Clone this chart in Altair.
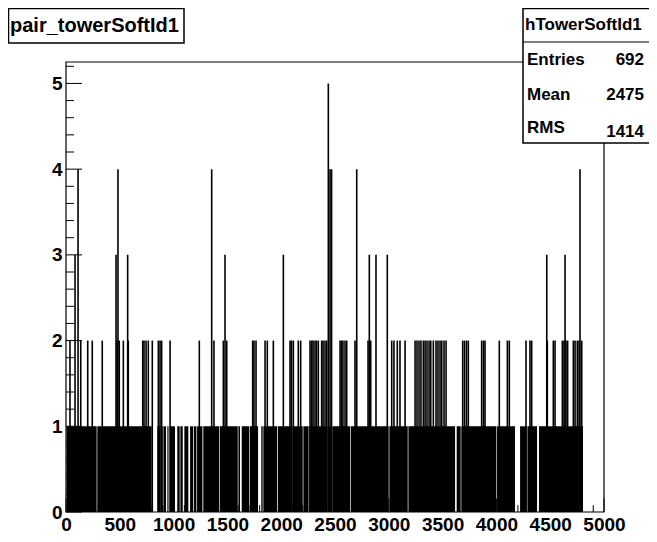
import altair as alt
import pandas as pd

# ---------------- data ----------------
# ranges of tower id where the histogram sits at (at least) one entry
ones_start = [5, 291, 849, 881, 905, 942, 967, 1034, 1063, 1100, 1153, 1190, 1218,
              1276, 1431, 1602, 1633, 1710, 1815, 1834, 1968, 2103, 2206, 2261, 2429,
              2475, 2647, 3005, 3182, 3631, 3674, 4006, 4220, 4288, 4396]
ones_end = [285, 796, 874, 899, 929, 953, 1013, 1057, 1085, 1137, 1183, 1212, 1268,
            1425, 1596, 1617, 1704, 1785, 1828, 1961, 2097, 2200, 2255, 2423, 2469,
            2641, 2999, 3176, 3616, 3668, 4000, 4173, 4282, 4378, 4805]

# bins with 3 or more entries: tower id and content
tall_pos = [84, 112, 465, 483, 573, 1354, 1478, 2020, 2438, 2454, 2468, 2702, 2819,
            2881, 2986, 4468, 4638, 4777]
tall_count = [3, 4, 3, 4, 3, 4, 3, 3, 5, 4, 4, 4, 3, 3, 3, 3, 3, 4]

# bins with exactly 2 entries
two_pos = [37, 137, 202, 244, 337, 474, 495, 533, 579, 713, 725, 744, 765, 802, 858,
           874, 889, 967, 1239, 1375, 1462, 1494, 1735, 1747, 1766, 1850, 1871, 1927,
           2082, 2096, 2113, 2159, 2181, 2268, 2284, 2296, 2314, 2328, 2345, 2376,
           2389, 2407, 2423, 2547, 2562, 2574, 2593, 2609, 2686, 2807, 2832, 3027,
           3048, 3079, 3104, 3151, 3244, 3262, 3281, 3299, 3321, 3337, 3355, 3374,
           3390, 3414, 3439, 3457, 3476, 3492, 3513, 3532, 3687, 3704, 3722, 3739,
           3863, 3880, 3894, 4027, 4102, 4120, 4275, 4312, 4328, 4473, 4529, 4545,
           4613, 4628, 4647, 4662, 4715, 4731, 4752, 4768, 4793]

x_major = [0, 500, 1000, 1500, 2000, 2500, 3000, 3500, 4000, 4500, 5000]
y_major = [0, 1, 2, 3, 4, 5]
x_minor = [v for v in range(0, 5001, 100) if v % 500]
y_minor = [round(0.2 * i, 1) for i in range(27) if i % 5]

hist_title = "pair_towerSoftId1"
stats_name = "hTowerSoftId1"
stats_labels = ["Entries", "Mean", "RMS"]
stats_values = ["692", "2475", "1414"]

# ---------------- layout ----------------
W, H = 538, 450
FONT = "Liberation Sans"

xs = alt.Scale(domain=[0, 5000], nice=False, zero=False)
ys = alt.Scale(domain=[0, 5.25], nice=False, zero=False)

xaxis = alt.Axis(values=x_major, format="d", labelFont=FONT, labelFontWeight="bold",
                 labelFontSize=19, labelColor="black", tickSize=0, domain=False,
                 grid=False, title=None, labelPadding=3, labelFlush=False,
                 labelOverlap=False)
yaxis = alt.Axis(values=y_major, format="d", labelFont=FONT, labelFontWeight="bold",
                 labelFontSize=19, labelColor="black", tickSize=0, domain=False,
                 grid=False, title=None, labelPadding=4, labelFlush=False,
                 labelOverlap=False)

ones_df = pd.DataFrame({"start": ones_start, "end": ones_end, "level": [1] * len(ones_start)})
spk_df = pd.concat([
    pd.DataFrame({"pos": tall_pos, "count": tall_count}),
    pd.DataFrame({"pos": two_pos, "count": [2] * len(two_pos)}),
], ignore_index=True)
one = pd.DataFrame({"a": [0]})

ones_layer = alt.Chart(ones_df).mark_rect(color="black").encode(
    x=alt.X("start:Q", scale=xs, axis=xaxis),
    x2="end:Q",
    y=alt.Y("level:Q", scale=ys, axis=yaxis),
    y2=alt.Y2(datum=0),
)

spike_layer = alt.Chart(spk_df).mark_rule(color="black", strokeWidth=1.6).encode(
    x=alt.X("pos:Q", scale=xs, axis=xaxis),
    y=alt.Y("count:Q", scale=ys, axis=yaxis),
    y2=alt.Y2(datum=0),
)

frame = alt.Chart(one).mark_rect(fill=None, stroke="black", strokeWidth=1.2).encode(
    x=alt.value(0), x2=alt.value(W), y=alt.value(0), y2=alt.value(H)
)

xt_major = alt.Chart(pd.DataFrame({"v": x_major})).mark_rule(color="black", strokeWidth=1).encode(
    x=alt.X("v:Q", scale=xs, axis=xaxis), y=alt.value(H), y2=alt.value(H - 13.5))
xt_minor = alt.Chart(pd.DataFrame({"v": x_minor})).mark_rule(color="black", strokeWidth=1).encode(
    x=alt.X("v:Q", scale=xs, axis=xaxis), y=alt.value(H), y2=alt.value(H - 6.8))
yt_major = alt.Chart(pd.DataFrame({"v": y_major})).mark_rule(color="black", strokeWidth=1).encode(
    y=alt.Y("v:Q", scale=ys, axis=yaxis), x=alt.value(0), x2=alt.value(16))
yt_minor = alt.Chart(pd.DataFrame({"v": y_minor})).mark_rule(color="black", strokeWidth=1).encode(
    y=alt.Y("v:Q", scale=ys, axis=yaxis), x=alt.value(0), x2=alt.value(8))

# title box
title_box = alt.Chart(one).mark_rect(fill="white", stroke="black", strokeWidth=1.5).encode(
    x=alt.value(-57.5), x2=alt.value(118), y=alt.value(-53.5), y2=alt.value(-19))
title_txt = alt.Chart(pd.DataFrame({"t": [hist_title]})).mark_text(
    font=FONT, fontWeight="bold", fontSize=20, align="left", baseline="alphabetic",
    color="black").encode(x=alt.value(-56), y=alt.value(-30), text="t:N")

# stats box
stats_box = alt.Chart(one).mark_rect(fill="white", stroke="black", strokeWidth=1.5).encode(
    x=alt.value(457), x2=alt.value(700), y=alt.value(-53.5), y2=alt.value(81))
stats_sep = alt.Chart(one).mark_rule(color="black", strokeWidth=1).encode(
    x=alt.value(457), x2=alt.value(700), y=alt.value(-20))
stats_head = alt.Chart(pd.DataFrame({"t": [stats_name]})).mark_text(
    font=FONT, fontWeight="bold", fontSize=17, align="left", baseline="alphabetic",
    color="black").encode(x=alt.value(459), y=alt.value(-32), text="t:N")

row_label_y = [3, 38, 71]
row_value_y = [3, 38, 75]
stat_layers = []
for lab, val, ly, vy in zip(stats_labels, stats_values, row_label_y, row_value_y):
    stat_layers.append(alt.Chart(pd.DataFrame({"t": [lab]})).mark_text(
        font=FONT, fontWeight="bold", fontSize=17, align="left", baseline="alphabetic",
        color="black").encode(x=alt.value(461), y=alt.value(ly), text="t:N"))
    stat_layers.append(alt.Chart(pd.DataFrame({"t": [val]})).mark_text(
        font=FONT, fontWeight="bold", fontSize=17, align="right", baseline="alphabetic",
        color="black").encode(x=alt.value(578), y=alt.value(vy), text="t:N"))

chart = alt.layer(
    ones_layer, spike_layer, frame, xt_major, xt_minor, yt_major, yt_minor,
    title_box, title_txt, stats_box, stats_sep, stats_head, *stat_layers
).properties(
    width=W, height=H,
    padding={"left": 58, "top": 54, "right": 45, "bottom": 22},
    autosize=alt.AutoSizeParams(type="none"),
    background="white",
).configure_view(stroke=None)

chart.save("out.html", embed_options={"renderer": "svg", "actions": False})
